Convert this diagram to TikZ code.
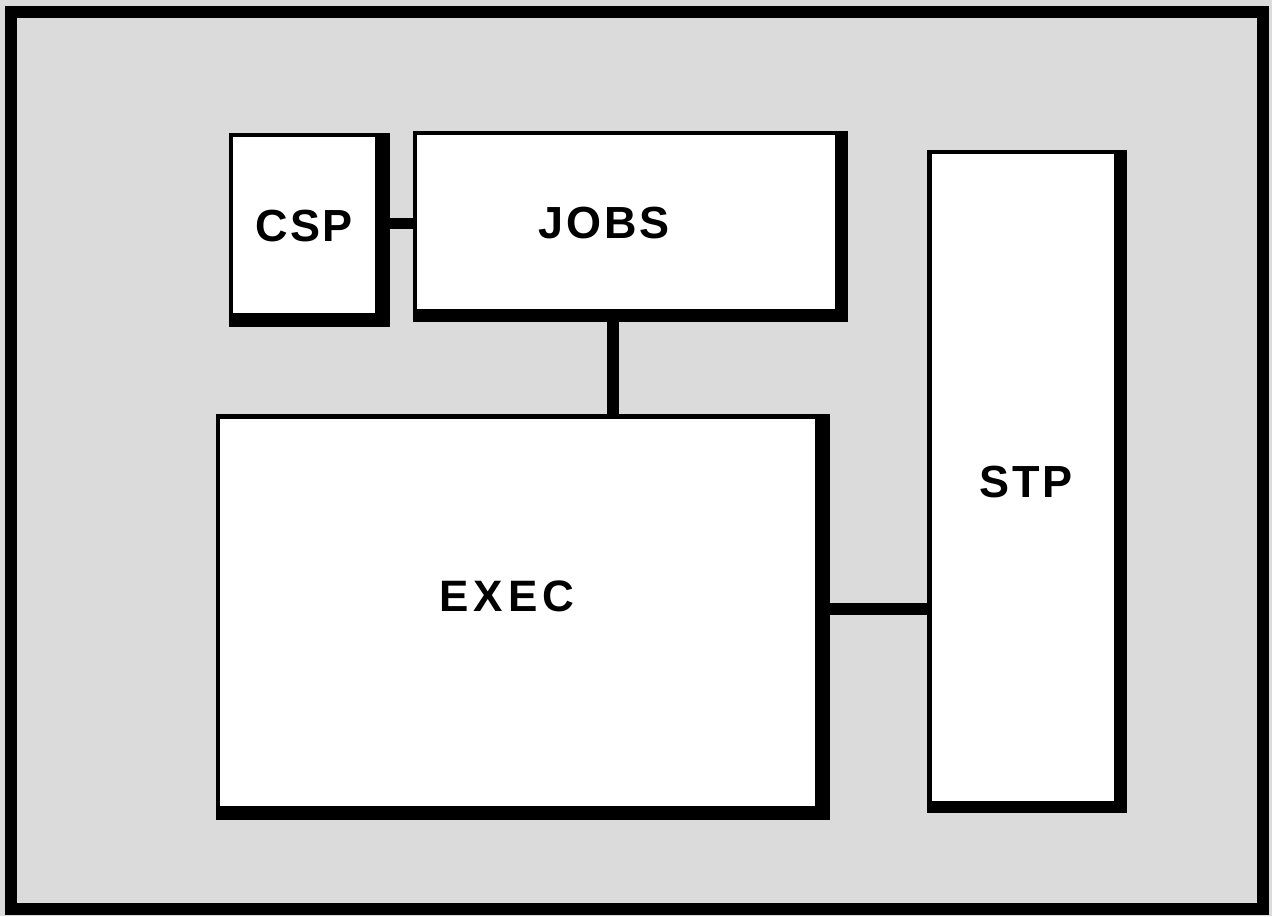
\documentclass[tikz,border=0pt]{standalone}
\usepackage{fontspec}
\newfontfamily\lblfont{Liberation Sans}[LetterSpace=6]
\newfontfamily\lblwide{Liberation Sans}[LetterSpace=11]
\usetikzlibrary{calc}
\definecolor{paper}{gray}{0.86}
\tikzset{
  boxbase/.style={fill=black, inner sep=0pt, outer sep=0pt},
  lbl/.style={font=\lblfont\bfseries\fontsize{45}{45}\selectfont, inner sep=0pt},
  lblw/.style={font=\lblwide\bfseries\fontsize{44}{44}\selectfont, inner sep=0pt},
  conn/.style={line width=11.5pt, line cap=butt},
  frame/.style={line width=12pt}
}
\begin{document}
\begin{tikzpicture}[x=1pt,y=-1pt]
\useasboundingbox (0,0) rectangle (1272,916);
% paper and frame
\fill[paper] (0,0) rectangle (1272,916);
\draw[frame] (11,12) rectangle (1263,909);
% boxes (full extent including heavy right/bottom edges)
\node[boxbase, minimum width=161pt, minimum height=194pt] (csp) at (309.5,230) {};
\node[boxbase, minimum width=435pt, minimum height=191pt] (jobs) at (630.5,226.5) {};
\node[boxbase, minimum width=614pt, minimum height=406pt] (exec) at (523,617) {};
\node[boxbase, minimum width=200pt, minimum height=663pt] (stp) at (1027,481.5) {};
% white interiors: thin top/left border, heavy right/bottom border
\fill[white] ($(csp.north west)+(4,4)$) rectangle ($(csp.south east)+(-15,-14)$);
\fill[white] ($(jobs.north west)+(4,4)$) rectangle ($(jobs.south east)+(-13,-13)$);
\fill[white] ($(exec.north west)+(4,5)$) rectangle ($(exec.south east)+(-15,-14)$);
\fill[white] ($(stp.north west)+(5,4)$) rectangle ($(stp.south east)+(-13,-12)$);
% connectors
\draw[conn] (csp.east |- 0,223.5) -- (jobs.west |- 0,223.5);
\draw[conn] (jobs.south -| 613,0) -- (exec.north -| 613,0);
\draw[conn] (exec.east |- 0,609) -- (stp.west |- 0,609);
% labels
\node[lbl] (csp-t) at (304,226) {CSP};
\node[lbl] (jobs-t) at (604,223) {JOBS};
\node[lblw] (exec-t) at (507,596) {EXEC};
\node[lbl] (stp-t) at (1026,482) {STP};
\end{tikzpicture}
\end{document}
